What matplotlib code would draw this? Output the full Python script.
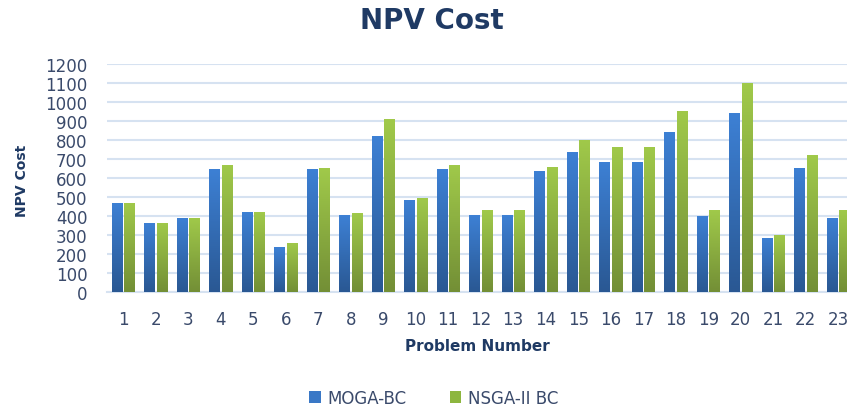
import numpy as np
import matplotlib
matplotlib.use("Agg")
import matplotlib.pyplot as plt
from matplotlib.colors import LinearSegmentedColormap

problems = [str(i) for i in range(1, 24)]
moga_bc = [470, 365, 390, 645, 420, 235, 645, 405, 820, 485, 645, 405,
           405, 635, 735, 685, 685, 840, 400, 940, 285, 655, 390]
nsga_bc = [470, 365, 390, 670, 420, 260, 650, 415, 910, 495, 670, 430,
           430, 660, 800, 765, 765, 955, 430, 1100, 300, 720, 430]

text_col = "#3A4A6B"
title_col = "#1F3A64"

fig = plt.figure(figsize=(8.47, 4.10), dpi=100)
ax = fig.add_axes([0.1263, 0.2854, 0.8737, 0.5561])

x = np.arange(len(problems))
w = 0.32
b1 = ax.bar(x - w / 2 - 0.03, moga_bc, width=w, color="#3A78C6", label="MOGA-BC", zorder=3)
b2 = ax.bar(x + w / 2 + 0.03, nsga_bc, width=w, color="#8DB63F", label="NSGA-II BC", zorder=3)

# vertical gradient inside each bar
grad = np.linspace(0, 1, 64).reshape(-1, 1)
cm_blue = LinearSegmentedColormap.from_list("b", ["#2A5893", "#3D80D4"])
cm_green = LinearSegmentedColormap.from_list("g", ["#738F36", "#A0C94A"])
for bars, cm in [(b1, cm_blue), (b2, cm_green)]:
    for p in bars:
        x0, y0 = p.get_x(), p.get_y()
        im = ax.imshow(grad, cmap=cm, aspect="auto", zorder=4,
                       extent=[x0, x0 + p.get_width(), y0, y0 + p.get_height()],
                       origin="lower")
        im.set_clip_path(p)

ax.set_xlim(-0.5, 22.27)
ax.set_ylim(0, 1200)
ax.set_yticks(range(0, 1201, 100))
ax.set_xticks(x)
ax.set_xticklabels(problems)
ax.grid(axis="y", color="#D6E2F1", linewidth=1.5, zorder=0)
for s in ["top", "right", "left"]:
    ax.spines[s].set_visible(False)
ax.spines["bottom"].set_color("#D6E2F1")
ax.spines["bottom"].set_linewidth(1.5)
ax.tick_params(length=0, labelsize=12, colors=text_col)
ax.tick_params(axis="x", pad=13)
ax.tick_params(axis="y", pad=14)

ax.set_xlabel("Problem Number", fontsize=11, fontweight="bold", color=title_col, labelpad=7)
fig.text(0.026, 0.56, "NPV Cost", rotation=90, fontsize=10, fontweight="bold",
         color=title_col, ha="center", va="center")
fig.text(0.51, 0.948, "NPV Cost", fontsize=20, fontweight="bold", color=title_col,
         ha="center", va="center")

fig.legend(handles=[b1, b2], loc="center", bbox_to_anchor=(0.512, 0.028), ncol=2,
           frameon=False, fontsize=12, labelcolor=text_col, handlelength=0.7,
           handleheight=0.7, columnspacing=2.6, handletextpad=0.4)

fig.savefig("out.png", dpi=100)
